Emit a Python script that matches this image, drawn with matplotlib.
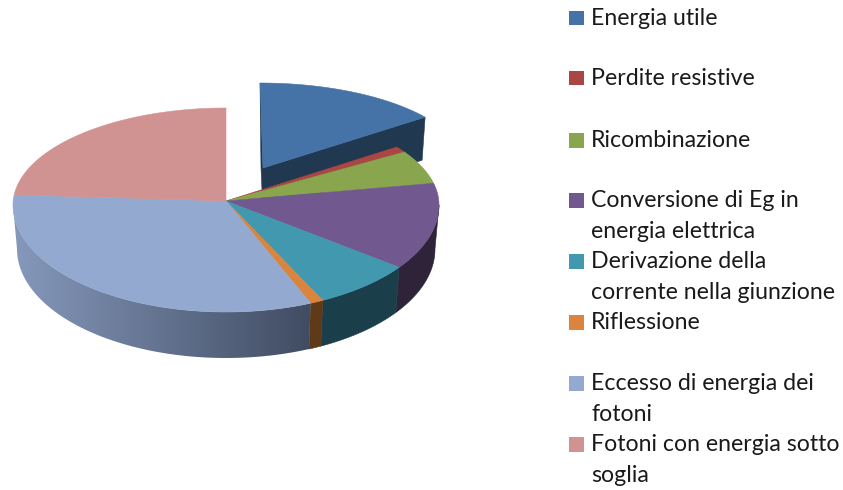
# filename: plot.py
import numpy as np
import matplotlib
matplotlib.use('Agg')
import matplotlib.pyplot as plt
from matplotlib.colors import LinearSegmentedColormap
from matplotlib.patches import Polygon

plt.rcParams['font.family'] = ['Lato', 'DejaVu Sans']

# Slices, clockwise from 12 o'clock
labels = ['Energia utile', 'Perdite resistive', 'Ricombinazione',
          'Conversione di Eg in\nenergia elettrica',
          'Derivazione della\ncorrente nella giunzione', 'Riflessione',
          'Eccesso di energia dei\nfotoni', 'Fotoni con energia sotto\nsoglia']
values = [14.8, 1.0, 5.6, 13.5, 7.6, 1.0, 33.2, 23.3]
colors = ['#4572A7', '#AA4643', '#89A54E', '#71588F',
          '#4198AF', '#DB843D', '#93A9CF', '#D19392']
wall_colors = ['#203850', '#4F1F1E', '#3F4D24', '#2E2339',
               '#1B3F4A', '#5E3A18', None, '#5F4342']
legend_y = [18, 78, 140, 200, 261, 322, 383, 444]

fig = plt.figure(figsize=(8.43, 4.90), dpi=100)
ax = fig.add_axes([0, 0, 1, 1])


def rim(theta, cx, cy, rx, ry_back, ry_front):
    # the tilted pie is drawn deeper at the front than at the back
    c = np.cos(theta)
    return np.column_stack([cx + rx * np.sin(theta),
                            cy - np.where(c > 0, ry_back, ry_front) * c])


apex = (226, 201)
top = dict(cx=226, cy=205, rx=213, ry_back=97, ry_front=107)
bottom = dict(cx=226, cy=249, rx=209, ry_back=97, ry_front=109)
moved = dict(cx=260, cy=168, rx=206, ry_back=85, ry_front=85)

edges = np.radians(np.concatenate([[0], np.cumsum(values)]) / sum(values) * 360)

# exploded slice: the two cut faces show behind the rest of the pie
arc = rim(np.linspace(edges[0], edges[1], 80), **moved)
ax.add_patch(Polygon([(263, 168), arc[-1], (arc[-1][0] - 3, arc[-1][1] + 43), (263, 212)],
                     color=wall_colors[0], lw=0.4))
ax.add_patch(Polygon([arc[0], (263, 168), (263, 212), (arc[0][0] + 1, 168)],
                     color=wall_colors[0], lw=0.4))
ax.add_patch(Polygon(np.vstack([[(263, 168)], arc]), color=colors[0], lw=0.4))

# front walls
wall_cmap = LinearSegmentedColormap.from_list('wall', ['#8699BC', '#404C62'])
for i in range(1, len(values)):
    a = max(edges[i], np.pi / 2)
    b = min(edges[i + 1], np.pi * 1.5)
    if b <= a:
        continue
    t = np.linspace(a, b, 120)
    outline = np.vstack([rim(t, **top), rim(t[::-1], **bottom)])
    if wall_colors[i] is None:
        # long wall fades from light on the left to dark on the right
        im = ax.imshow(np.linspace(0, 1, 256)[None, :], cmap=wall_cmap, aspect='auto',
                       extent=(outline[:, 0].min(), outline[:, 0].max(), 380, 180), zorder=1)
        im.set_clip_path(Polygon(outline, transform=ax.transData))
    else:
        ax.add_patch(Polygon(outline, color=wall_colors[i], lw=0.4, zorder=1))

# top surface
for i in range(1, len(values)):
    t = np.linspace(edges[i], edges[i + 1], 160)
    ax.add_patch(Polygon(np.vstack([[apex], rim(t, **top)]),
                         color=colors[i], lw=0.4, zorder=2))

# legend
for label, color, y in zip(labels, colors, legend_y):
    ax.add_patch(plt.Rectangle((569, y - 7), 14.5, 14.5, color=color, lw=0))
    for n, line in enumerate(label.split('\n')):
        ax.text(591, y + 7 + n * 31, line, fontsize=16.7, color='#1a1a1a', va='baseline')

ax.set_xlim(0, 843)
ax.set_ylim(490, 0)
ax.axis('off')

plt.savefig('out.png', dpi=100)
